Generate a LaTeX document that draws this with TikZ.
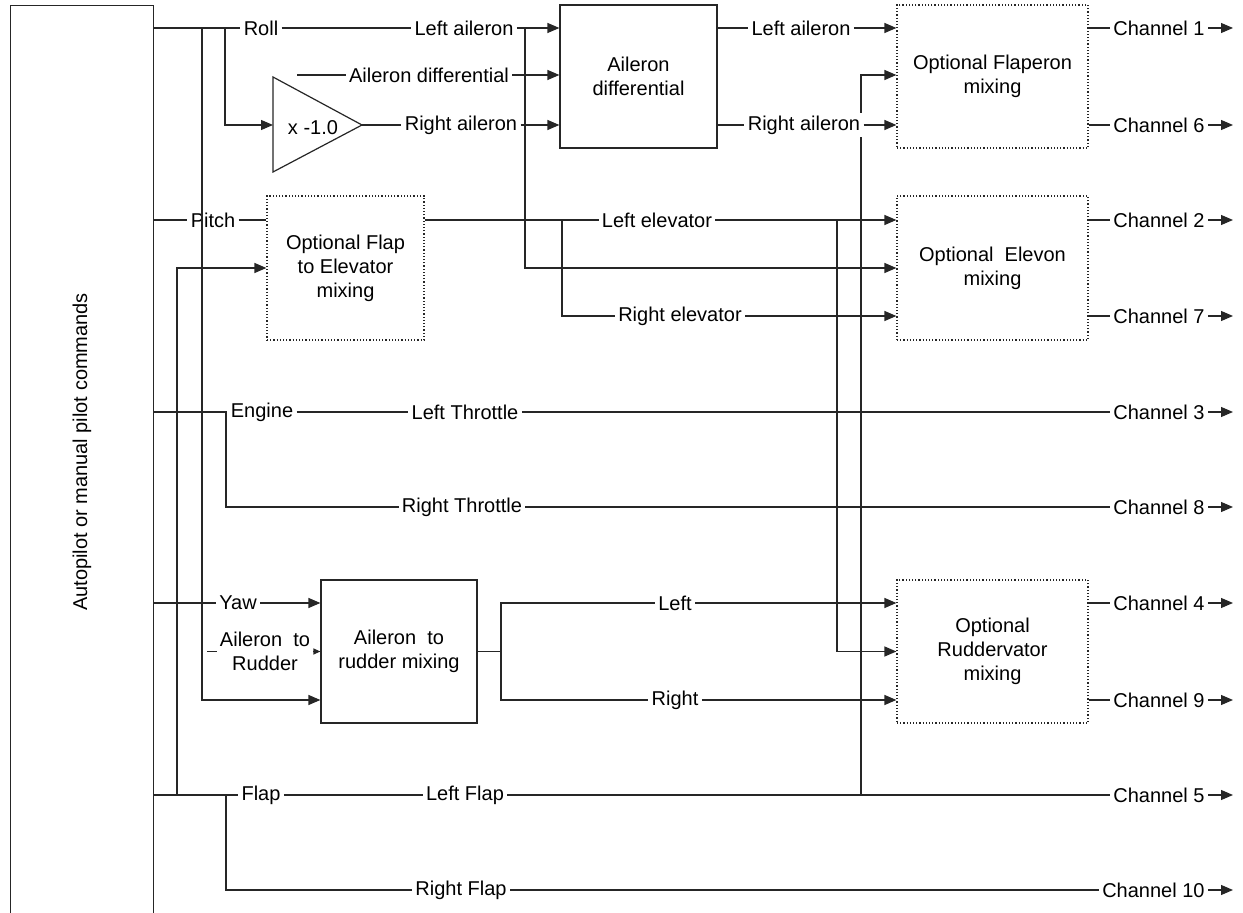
\documentclass[tikz,border=0pt]{standalone}
\usepackage{fontspec}
\setmainfont{Liberation Sans}
\usetikzlibrary{arrows.meta, backgrounds}

\begin{document}
\begin{tikzpicture}[x=0.5pt,y=-0.5pt,>={Triangle[length=6pt,width=5pt]},
	wire/.style={line width=0.6pt,black!85},
	sig/.style={wire,->},
	lbl/.style={fill=white,inner sep=1.5pt},
	blk/.style={
		draw, % plain mixing block
		line width=0.6pt,
		black!85,
		text=black,
		align=center,
		minimum width=78.5pt,
		minimum height=71.5pt,
	},
	opt/.style={blk,densely dotted,minimum width=95.5pt},
	chan/.style={lbl,anchor=east},
]
	\useasboundingbox (0,0) rectangle (1243,913);

	% command source
	\node[draw,line width=0.6pt,black!85,minimum width=71.5pt,minimum height=462.5pt,
		anchor=north west,inner sep=0pt] (cmd) at (10,5) {};
	\node[rotate=90] (cmdTxt) at (82,452) {Autopilot or manual pilot commands};

	% blocks
	\node[blk] (ad) at (638.5,76.5) {Aileron\\differential};
	\node[opt] (flpr) at (992.5,76.5) {Optional Flaperon\\mixing};
	\node[opt,minimum width=78.5pt,minimum height=72pt] (fte) at (345.5,268)
		{Optional Flap\\to Elevator\\mixing};
	\node[opt,minimum height=72pt] (elvn) at (992.5,268) {Optional\ \ Elevon\\mixing};
	\node[blk,minimum width=78pt] (rmix) at (399,651.5) {Aileron\ \ to\\rudder mixing};
	\node[opt] (rdv) at (992.5,651.5) {Optional\\Ruddervator\\mixing};

	% gain
	\coordinate (negIn) at (273,125);
	\coordinate (negOut) at (362,125);
	\draw[wire,fill=white] (273,77) -- (negOut) -- (273,172) -- cycle;
	\node (neg) at (313,128) {x -1.0};

	% signal labels
	\node[lbl] (roll) at (261,28) {Roll};
	\node[lbl] (lailIn) at (464,28) {Left aileron};
	\node[lbl] (adIn) at (429,75) {Aileron differential};
	\node[lbl] (railIn) at (461,125) {Right aileron};
	\node[lbl] (lailOut) at (801,28) {Left aileron};
	\node[lbl] (railOut) at (804,125) {Right aileron};
	\node[lbl] (pitch) at (213,220) {Pitch};
	\node[lbl] (lelev) at (657,220) {Left elevator};
	\node[lbl] (relev) at (680,316) {Right elevator};
	\node[lbl] (engine) at (262,412) {Engine};
	\node[lbl] (lthr) at (465,412) {Left Throttle};
	\node[lbl] (rthr) at (462,507) {Right Throttle};
	\node[lbl] (yaw) at (238,603) {Yaw};
	\node[lbl,align=center] (a2r) at (265,651.5) {Aileron\ \ to\\Rudder};
	\node[lbl] (lrud) at (675,603) {Left};
	\node[lbl] (rrud) at (675,700) {Right};
	\node[lbl] (flap) at (261,795) {Flap};
	\node[lbl] (lflap) at (465,795) {Left Flap};
	\node[lbl] (rflap) at (461,890) {Right Flap};
	\foreach \c/\r in {1/28,6/125,2/220,7/316,3/412,8/507,4/603,9/700,5/795,10/890}
		\node[chan] (ch\c) at (1208,\r) {Channel \c};

	% junctions and free ends
	\coordinate (tRoll1) at (202,28);
	\coordinate (tRoll2) at (225,28);
	\coordinate (adStart) at (297,75);
	\coordinate (tLail) at (525,28);
	\coordinate (tLflap) at (861,795);
	\coordinate (tFlap1) at (177,795);
	\coordinate (tFlap2) at (226,795);
	\coordinate (tElev) at (562,220);
	\coordinate (tLelev) at (837,220);
	\coordinate (tEng) at (226,412);
	\coordinate (a2rStart) at (207,651.5);
	\coordinate (tMix) at (501,651.5);
	\coordinate (outEnd) at (1233,0);

	\begin{scope}[on background layer]
		% roll
		\draw[wire] (cmd.east |- roll) -- (roll) -- (lailIn);
		\draw[sig] (lailIn) -- (ad.west |- lailIn);
		\draw[sig] (tRoll2) |- (negIn);
		\draw[wire] (negOut) -- (railIn);
		\draw[sig] (railIn) -- (ad.west |- railIn);
		\draw[wire] (adStart) -- (adIn);
		\draw[sig] (adIn) -- (ad.west |- adIn);
		\draw[wire] (ad.east |- lailOut) -- (lailOut);
		\draw[sig] (lailOut) -- (flpr.west |- lailOut);
		\draw[wire] (ad.east |- railOut) -- (railOut);
		\draw[sig] (railOut) -- (flpr.west |- railOut);
		\draw[sig] (tLail) |- (elvn.west);
		\draw[sig] (tLflap) |- (flpr.west |- adIn);
		% pitch
		\draw[wire] (cmd.east |- pitch) -- (pitch) -- (fte.west |- pitch);
		\draw[sig] (tFlap1) |- (fte.west);
		\draw[wire] (fte.east |- lelev) -- (lelev);
		\draw[sig] (lelev) -- (elvn.west |- lelev);
		\draw[wire] (tElev) |- (relev);
		\draw[sig] (relev) -- (elvn.west |- relev);
		\draw[sig] (tLelev) |- (rdv.west);
		% engine
		\draw[wire] (cmd.east |- engine) -- (engine) -- (lthr) -- (ch3);
		\draw[wire] (tEng) |- (rthr) -- (ch8);
		% yaw
		\draw[wire] (cmd.east |- yaw) -- (yaw);
		\draw[sig] (yaw) -- (rmix.west |- yaw);
		\draw[wire] (a2rStart) -- (a2r);
		\draw[sig,>={Triangle[length=3.5pt,width=3pt]}] (a2r) -- (rmix.west |- a2r);
		\draw[wire] (rmix.east) -- (tMix);
		\draw[wire] (tMix) |- (lrud);
		\draw[wire] (tMix) |- (rrud);
		\draw[sig] (lrud) -- (rdv.west |- lrud);
		\draw[sig] (rrud) -- (rdv.west |- rrud);
		% flap
		\draw[wire] (cmd.east |- flap) -- (flap) -- (lflap) -- (ch5);
		\draw[wire] (tFlap2) |- (rflap) -- (ch10);
		% outputs
		\foreach \b/\c in {flpr/1,flpr/6,elvn/2,elvn/7,rdv/4,rdv/9}
			\draw[wire] (\b.east |- ch\c) -- (ch\c);
		\foreach \c in {1,...,10}
			\draw[sig] (ch\c) -- (ch\c -| outEnd);
	\end{scope}

	% roll to rudder mixing, drawn over the Pitch label
	\draw[sig] (tRoll1) |- (rmix.west |- rrud);

\end{tikzpicture}
\end{document}
